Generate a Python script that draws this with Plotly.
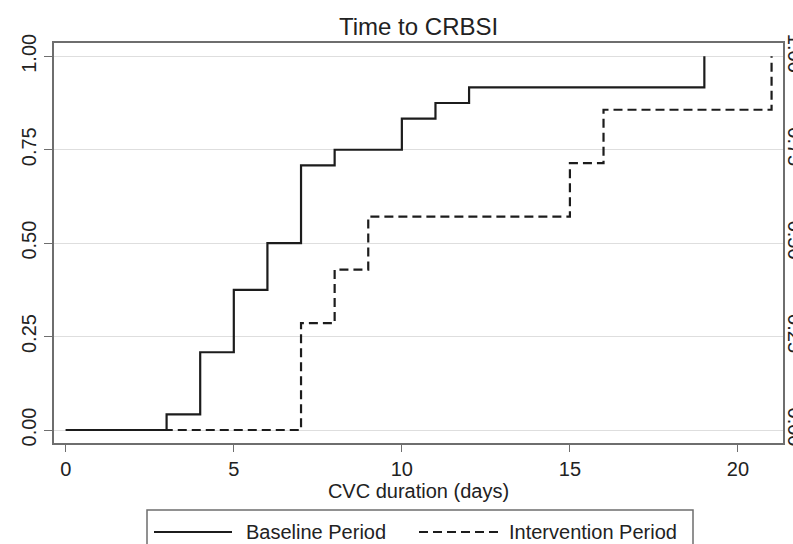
import plotly.graph_objects as go

# ---- data ----
baseline_days = [0, 3, 4, 5, 6, 7, 8, 10, 11, 12, 19]
baseline_cum = [0.0, 0.042, 0.208, 0.375, 0.50, 0.708, 0.75, 0.833, 0.875, 0.917, 1.0]
intervention_days = [0, 7, 8, 9, 15, 16, 21]
intervention_cum = [0.0, 0.286, 0.429, 0.571, 0.714, 0.857, 1.0]
x_ticks = [0, 5, 10, 15, 20]
y_ticks = [0.0, 0.25, 0.50, 0.75, 1.0]
series_names = ["Baseline Period", "Intervention Period"]
title_text = "Time to CRBSI"
x_title = "CVC duration (days)"

W, H = 793, 544
L, R, T, B = 54, 10, 43, 101
PW, PH = W - L - R, H - T - B

def px(xp):
    return (xp - L) / PW

def py(yp):
    return (H - B - yp) / PH

FONT = "Liberation Sans, Arial, sans-serif"
LINE = "#1c1c1c"
FRAME = "#6e6e6e"

fig = go.Figure()
fig.add_trace(go.Scatter(x=baseline_days, y=baseline_cum, mode="lines",
                         line=dict(color=LINE, width=2.2, shape="hv"),
                         name=series_names[0], showlegend=False))
fig.add_trace(go.Scatter(x=intervention_days, y=intervention_cum, mode="lines",
                         line=dict(color=LINE, width=2.2, shape="hv", dash="9px,5px"),
                         name=series_names[1], showlegend=False))
# invisible copy on the mirrored right axis so that axis gets drawn
fig.add_trace(go.Scatter(x=baseline_days, y=baseline_cum, mode="lines", yaxis="y2",
                         line=dict(width=0), opacity=0, hoverinfo="skip",
                         showlegend=False))

fig.update_layout(
    width=W, height=H,
    margin=dict(l=L, r=R, t=T, b=B, pad=0, autoexpand=False),
    paper_bgcolor="white", plot_bgcolor="white",
    font=dict(family=FONT, size=20, color="#222"),
    xaxis=dict(range=[-0.35, 21.34], tickvals=x_ticks, ticks="outside", ticklen=7,
               tickcolor=FRAME, tickwidth=1.2, showgrid=False, zeroline=False,
               showline=True, linecolor=FRAME, linewidth=1.5, mirror=True,
               automargin=False,
               tickfont=dict(size=20, color="#222"),
               title=dict(text=x_title, font=dict(size=20, color="#222"), standoff=2)),
    yaxis=dict(range=[-0.0348, 1.0356], tickvals=y_ticks, tickformat=".2f",
               ticks="outside", ticklen=8, tickcolor=FRAME, tickwidth=1.2,
               tickangle=-90, showgrid=True, gridcolor="#dedede", gridwidth=1,
               zeroline=False, showline=True, linecolor=FRAME, linewidth=1.5,
               mirror=True, automargin=False, tickfont=dict(size=20, color="#222")),
    yaxis2=dict(range=[-0.0348, 1.0356], tickvals=y_ticks, tickformat=".2f",
                overlaying="y", side="right", anchor="x", tickangle=90, ticks="",
                showgrid=False, zeroline=False, showline=False, automargin=False,
                tickfont=dict(size=20, color="#222")),
    showlegend=False,
)

# title
fig.add_annotation(text=title_text, xref="paper", yref="paper", x=0.5, y=py(27),
                   showarrow=False, font=dict(size=24, color="#222"),
                   xanchor="center", yanchor="middle")

# custom legend
fig.add_shape(type="rect", xref="paper", yref="paper",
              x0=px(147), x1=px(693), y0=py(510), y1=py(570),
              line=dict(color=FRAME, width=1.5), fillcolor="white", layer="above")
fig.add_shape(type="line", xref="paper", yref="paper",
              x0=px(154), x1=px(232), y0=py(532), y1=py(532),
              line=dict(color=LINE, width=2.2))
fig.add_shape(type="line", xref="paper", yref="paper",
              x0=px(419), x1=px(498), y0=py(532), y1=py(532),
              line=dict(color=LINE, width=2.2, dash="9px,5px"))
fig.add_annotation(text=series_names[0], xref="paper", yref="paper", x=px(244), y=py(532),
                   showarrow=False, xanchor="left", yanchor="middle",
                   font=dict(size=20, color="#222"))
fig.add_annotation(text=series_names[1], xref="paper", yref="paper", x=px(507), y=py(532),
                   showarrow=False, xanchor="left", yanchor="middle",
                   font=dict(size=20, color="#222"))

fig.write_html("out.html")
